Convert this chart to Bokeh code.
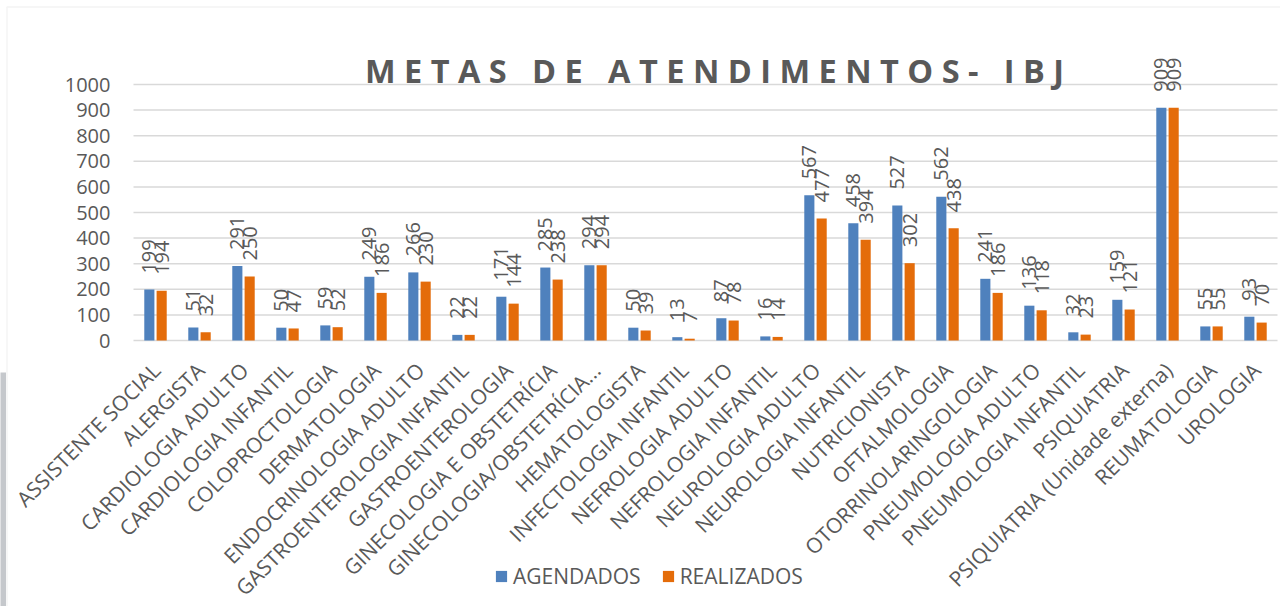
import math
from bokeh.plotting import figure
from bokeh.models import (ColumnDataSource, Range1d, LabelSet, Label, Legend, LegendItem,
                          BoxAnnotation)
from bokeh.core.properties import value
from bokeh.embed import file_html
from bokeh.resources import INLINE

categories = [
    "ASSISTENTE SOCIAL", "ALERGISTA", "CARDIOLOGIA ADULTO", "CARDIOLOGIA INFANTIL",
    "COLOPROCTOLOGIA", "DERMATOLOGIA", "ENDOCRINOLOGIA ADULTO",
    "GASTROENTEROLOGIA INFANTIL", "GASTROENTEROLOGIA", "GINECOLOGIA E OBSTETRÍCIA",
    "GINECOLOGIA/OBSTETRÍCIA...", "HEMATOLOGISTA", "INFECTOLOGIA INFANTIL",
    "NEFROLOGIA ADULTO", "NEFROLOGIA INFANTIL", "NEUROLOGIA ADULTO",
    "NEUROLOGIA INFANTIL", "NUTRICIONISTA", "OFTALMOLOGIA", "OTORRINOLARINGOLOGIA",
    "PNEUMOLOGIA ADULTO", "PNEUMOLOGIA INFANTIL", "PSIQUIATRIA",
    "PSIQUIATRIA (Unidade externa)", "REUMATOLOGIA", "UROLOGIA",
]
agendados = [199, 51, 291, 50, 59, 249, 266, 22, 171, 285, 294, 50, 13, 87, 16,
             567, 458, 527, 562, 241, 136, 32, 159, 909, 55, 93]
realizados = [194, 32, 250, 47, 52, 186, 230, 22, 144, 238, 294, 39, 7, 78, 14,
              477, 394, 302, 438, 186, 118, 23, 121, 909, 55, 70]
y_ticks = [0, 100, 200, 300, 400, 500, 600, 700, 800, 900, 1000]
series_names = ["AGENDADOS", "REALIZADOS"]
title_text = "METAS DE ATENDIMENTOS- IBJ"

BLUE = "#4F81BD"
ORANGE = "#E46C0A"
TXT = "#595959"
GRID = "#D9D9D9"
FONT = "Open Sans"

# ---- layout (pixels) ----
W, H = 1280, 606
PLOT_LEFT = 133      # pixel where the category axis starts
PLOT_BASE = 340      # pixel of value 0
CAT_PX = 44          # pixels per category
VAL_PX = 0.256       # pixels per unit of value
BAR_W = 0.23
DODGE = 0.14


def px2x(px):
    return (px - PLOT_LEFT) / CAT_PX


def py2y(py):
    return (PLOT_BASE - py) / VAL_PX


n = len(categories)
xc = [i + 0.5 for i in range(n)]

NB = "\u00a0"
spaced_title = (NB * 3).join(NB.join(w) for w in title_text.split(" "))

src = ColumnDataSource(dict(
    cat=categories, xc=xc,
    xa=[x - DODGE for x in xc], xr=[x + DODGE for x in xc],
    ag=agendados, re=realizados,
    ag_txt=[str(v) for v in agendados], re_txt=[str(v) for v in realizados],
    zero=[0] * n,
))
tick_src = ColumnDataSource(dict(y=y_ticks, txt=[str(t) for t in y_ticks],
                                 x0=[0] * len(y_ticks), x1=[n] * len(y_ticks)))

p = figure(x_range=Range1d(px2x(0), px2x(W)), y_range=Range1d(py2y(H), py2y(0)),
           width=W, height=H, output_backend="svg", toolbar_location=None,
           min_border=0, x_axis_location=None, y_axis_location=None)
p.outline_line_color = None
p.grid.visible = False
p.background_fill_color = "white"
p.border_fill_color = "white"

# chart-area border and left strip (decoration)
p.add_layout(BoxAnnotation(left=px2x(6.5), right=px2x(W + 5), top=py2y(6.5), bottom=py2y(H + 5),
                           fill_alpha=0, line_color=GRID, line_width=1.5))
p.add_layout(BoxAnnotation(left=px2x(-1), right=px2x(5.5), top=py2y(372), bottom=py2y(H + 5),
                           fill_color="#C5C8CC", fill_alpha=1, line_color=None))

# gridlines from the tick values
p.segment(x0="x0", x1="x1", y0="y", y1="y", source=tick_src, line_color=GRID, line_width=1.5)

r1 = p.vbar(x="xa", top="ag", width=BAR_W, source=src, fill_color=BLUE, line_color=None)
r2 = p.vbar(x="xr", top="re", width=BAR_W, source=src, fill_color=ORANGE, line_color=None)

# y tick labels
p.add_layout(LabelSet(x="x0", y="y", text="txt", source=tick_src, text_align="right",
                      text_baseline="middle", x_offset=-23, text_font_size="20px",
                      text_color=TXT, text_font=value(FONT)))

# value labels
common = dict(source=src, angle=math.pi / 2, text_align="left", text_baseline="middle",
              y_offset=16, text_font_size="20px", text_color=TXT, text_font=value(FONT))
p.add_layout(LabelSet(x="xa", y="ag", text="ag_txt", **common))
p.add_layout(LabelSet(x="xr", y="re", text="re_txt", **common))

# category labels
p.add_layout(LabelSet(x="xc", y="zero", text="cat", source=src, angle=math.pi / 4,
                      text_align="right", text_baseline="top", x_offset=-9, y_offset=-16,
                      text_font_size="21px", text_color=TXT, text_font=value(FONT)))

# title
p.add_layout(Label(x=px2x(714), y=0, text=spaced_title, text_align="center",
                   text_baseline="alphabetic", y_offset=PLOT_BASE - 70,
                   text_font_size="32.5px", text_font_style="bold", text_color=TXT,
                   text_font=FONT))

legend = Legend(items=[LegendItem(label=series_names[0], renderers=[r1]),
                       LegendItem(label=series_names[1], renderers=[r2])],
                orientation="horizontal", location=(494, H - 590),
                glyph_width=14, glyph_height=14, label_standoff=5, spacing=20,
                padding=0, margin=0, border_line_color=None, background_fill_alpha=0,
                label_text_font=FONT, label_text_font_size="21px",
                label_text_color=TXT)
p.add_layout(legend)

open("out.html", "w").write(file_html(p, INLINE))
